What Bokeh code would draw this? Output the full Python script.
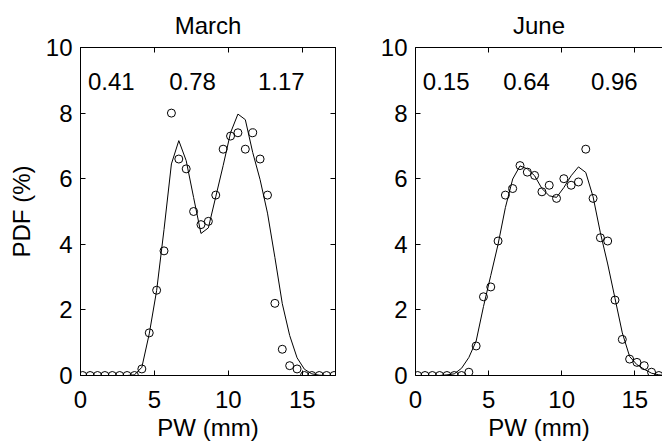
from bokeh.plotting import figure
from bokeh.layouts import row
from bokeh.models import LinearAxis, FixedTicker, ColumnDataSource
from bokeh.core.properties import value
from bokeh.embed import file_html
from bokeh.resources import INLINE

# PW bin centres (mm)
pw = [0.15, 0.65, 1.15, 1.65, 2.15, 2.65, 3.15, 3.65, 4.15, 4.65,
      5.15, 5.65, 6.15, 6.65, 7.15, 7.65, 8.15, 8.65, 9.15, 9.65,
      10.15, 10.65, 11.15, 11.65, 12.15, 12.65, 13.15, 13.65, 14.15, 14.65,
      15.15, 15.65, 16.15, 16.65, 17.15]

march_obs = [0, 0, 0, 0, 0, 0, 0, 0, 0.2, 1.3,
             2.6, 3.8, 8.0, 6.6, 6.3, 5.0, 4.6, 4.7, 5.5, 6.9,
             7.3, 7.4, 6.9, 7.4, 6.6, 5.5, 2.2, 0.8, 0.3, 0.2,
             0, 0, 0, 0, 0]
march_fit = [0, 0, 0, 0, 0, 0, 0, 0.02, 0.25, 1.27,
             2.59, 4.45, 6.45, 7.16, 6.55, 5.43, 4.33, 4.5, 5.45, 6.4,
             7.4, 7.97, 7.8, 6.8, 5.97, 4.95, 3.6, 2.19, 1.22, 0.54,
             0.19, 0.05, 0.01, 0, 0]

june_obs = [0, 0, 0, 0, 0, 0, 0, 0.1, 0.9, 2.4,
            2.7, 4.1, 5.5, 5.7, 6.4, 6.2, 6.1, 5.6, 5.8, 5.4,
            6.0, 5.8, 5.9, 6.9, 5.4, 4.2, 4.1, 2.3, 1.1, 0.5,
            0.4, 0.3, 0.1, 0, 0]
june_fit = [0, 0, 0, 0, 0.02, 0.05, 0.22, 0.55, 1.05, 2.1,
            3.05, 4.0, 5.12, 5.99, 6.39, 6.3, 6.09, 5.7, 5.48, 5.43,
            5.73, 6.09, 6.36, 6.19, 5.45, 4.35, 3.4, 2.35, 1.3, 0.58,
            0.33, 0.19, 0.07, 0.02, 0]

march_stats = ["0.41", "0.78", "1.17"]
june_stats = ["0.15", "0.64", "0.96"]
stat_x = [0.5, 6.0, 12.0]
stat_y = [8.95, 8.95, 8.95]

x_ticks = [0, 5, 10, 15]
y_ticks = [0, 2, 4, 6, 8, 10]

FONT = "Liberation Sans"
FS = "24px"


def style_axis(ax, ticks, labels=True, standoff=8):
    ax.ticker = FixedTicker(ticks=ticks)
    ax.major_tick_in = 5
    ax.major_tick_out = 0
    ax.minor_tick_line_color = None
    ax.axis_line_color = "black"
    ax.major_tick_line_color = "black"
    ax.major_label_text_font = FONT
    ax.major_label_text_color = "black"
    if labels:
        ax.major_label_text_font_size = FS
        ax.major_label_standoff = standoff
    else:
        ax.major_label_text_font_size = "0px"
        ax.major_label_standoff = 0
        ax.major_label_text_color = None
    ax.axis_label_text_font = FONT
    ax.axis_label_text_font_size = FS
    ax.axis_label_text_font_style = "normal"
    ax.axis_label_text_color = "black"


def make(title, obs, fit, stats, width, xmax, left, right, ylabel, right_axis):
    p = figure(width=width, height=445, x_range=(0, xmax), y_range=(0, 10),
               title=title, output_backend="svg", toolbar_location=None,
               min_border_left=left, min_border_right=right,
               min_border_top=47, min_border_bottom=70)
    p.grid.visible = False
    p.background_fill_color = "white"
    p.border_fill_color = "white"
    p.outline_line_color = "black" if right_axis else None
    p.outline_line_width = 1

    style_axis(p.xaxis[0], x_ticks, standoff=15)
    style_axis(p.yaxis[0], y_ticks, standoff=8)
    p.xaxis.axis_label = "PW (mm)"
    p.xaxis.axis_label_standoff = 3
    if ylabel:
        p.yaxis.axis_label = ylabel
        p.yaxis.axis_label_standoff = 8

    top = LinearAxis()
    style_axis(top, x_ticks, labels=False)
    p.add_layout(top, "above")
    if right_axis:
        r = LinearAxis()
        style_axis(r, y_ticks, labels=False)
        p.add_layout(r, "right")

    p.title.align = "center"
    p.title.text_font = FONT
    p.title.text_font_size = FS
    p.title.text_font_style = "normal"
    p.title.text_color = "black"
    p.title.text_line_height = 0.6
    p.title.standoff = 18

    src = ColumnDataSource(dict(x=pw, obs=obs, fit=fit))
    p.line("x", "fit", source=src, line_color="black", line_width=1)
    p.scatter("x", "obs", source=src, marker="circle", size=8,
              fill_color=None, line_color="black", line_width=1)

    tsrc = ColumnDataSource(dict(x=stat_x, y=stat_y, t=stats))
    p.text("x", "y", text="t", source=tsrc, text_align="left",
           text_baseline="middle", text_font=value(FONT),
           text_font_size=value(FS), text_color="black")
    return p


p1 = make("March", march_obs, march_fit, march_stats, 345, 17.25, 80, 10,
          "PDF (%)", True)
p2 = make("June", june_obs, june_fit, june_stats, 317, 16.9, 70, 0,
          None, False)

layout = row(p1, p2)
open("out.html", "w").write(file_html(layout, INLINE))
